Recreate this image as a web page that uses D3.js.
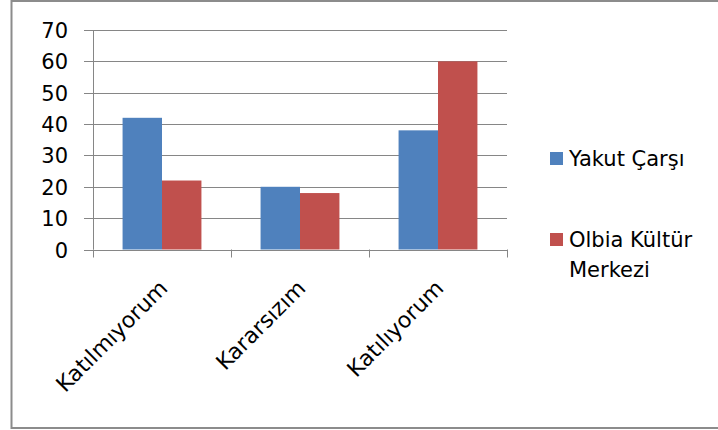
<!DOCTYPE html>
<html>
<head>
<meta charset="utf-8">
<script src="https://cdn.jsdelivr.net/npm/d3@7"></script>
<style>
  html, body { margin: 0; padding: 0; background: #fff; }
  svg text { font-family: 'DejaVu Sans', sans-serif; fill: #000; }
</style>
</head>
<body>
<div id="chart"></div>
<script>
const categories = ['Katılmıyorum', 'Kararsızım', 'Katılıyorum']
const seriesNames = ['Yakut Çarşı', 'Olbia Kültür Merkezi']
const yakutValues = [42, 20, 38]
const olbiaValues = [22, 18, 60]
const yTicks = [0, 10, 20, 30, 40, 50, 60, 70]
const seriesColors = ['#4f81bd', '#c0504d']

const width = 718
const height = 430
const plot = { left: 93, right: 507, top: 30, bottom: 249.5 }

const svg = d3.select('#chart').append('svg')
  .attr('width', width)
  .attr('height', height)

// chart frame (right edge falls outside the picture)
svg.append('rect')
  .attr('x', 11.5).attr('y', 1)
  .attr('width', 720).attr('height', 427)
  .attr('fill', '#fff')
  .attr('stroke', '#8c8c8c')
  .attr('stroke-width', 2)

const x = d3.scaleBand()
  .domain(categories)
  .range([plot.left, plot.right])

const xInner = d3.scaleBand()
  .domain(seriesNames)
  .range([0, x.bandwidth()])
  .paddingOuter(0.75)

const y = d3.scaleLinear()
  .domain([0, 70])
  .range([plot.bottom, plot.top])

// y tick labels
const yAxis = svg.append('g')
  .attr('transform', 'translate(' + plot.left + ',0)')
  .call(d3.axisLeft(y).tickValues(yTicks).tickSize(0).tickPadding(25).tickFormat(d3.format('d')))
yAxis.select('.domain').remove()
yAxis.selectAll('text').style('font-size', '21px').attr('dy', '0.36em')

// gridlines (extend left as outside tick marks)
svg.append('g').selectAll('line')
  .data(yTicks)
  .join('line')
  .attr('x1', plot.left - 9)
  .attr('x2', plot.right)
  .attr('y1', d => Math.round(y(d)) + 0.5)
  .attr('y2', d => Math.round(y(d)) + 0.5)
  .attr('stroke', '#868686')
  .attr('stroke-width', 1)

// y axis line
svg.append('line')
  .attr('x1', plot.left + 0.5).attr('x2', plot.left + 0.5)
  .attr('y1', plot.top).attr('y2', plot.bottom)
  .attr('stroke', '#868686')

// bars
const rows = categories.map((c, i) => ({ category: c, values: [yakutValues[i], olbiaValues[i]] }))

svg.append('g').selectAll('g')
  .data(rows)
  .join('g')
  .attr('transform', d => 'translate(' + x(d.category) + ',0)')
  .selectAll('rect')
  .data(d => d.values.map((v, j) => ({ name: seriesNames[j], value: v, color: seriesColors[j] })))
  .join('rect')
  .attr('x', d => xInner(d.name))
  .attr('width', xInner.bandwidth())
  .attr('y', d => y(d.value))
  .attr('height', d => y(0) - y(d.value))
  .attr('fill', d => d.color)

// x axis line and category ticks
svg.append('line')
  .attr('x1', plot.left - 9).attr('x2', plot.right)
  .attr('y1', Math.round(plot.bottom) + 0.5).attr('y2', Math.round(plot.bottom) + 0.5)
  .attr('stroke', '#868686')

const tickXs = categories.map(c => x(c)).concat([plot.right])
svg.append('g').selectAll('line')
  .data(tickXs)
  .join('line')
  .attr('x1', d => Math.round(d) + 0.5)
  .attr('x2', d => Math.round(d) + 0.5)
  .attr('y1', plot.bottom)
  .attr('y2', plot.bottom + 8)
  .attr('stroke', '#868686')

// rotated category labels
svg.append('g').selectAll('text')
  .data(categories)
  .join('text')
  .attr('text-anchor', 'end')
  .style('font-size', '22px')
  .attr('transform', d => 'translate(' + (x(d) + x.bandwidth() / 2 + 7) + ',' + (plot.bottom + 40) + ') rotate(-45)')
  .text(d => d)

// legend
const legendItems = [
  { lines: ['Yakut Çarşı'], y: 152 },
  { lines: ['Olbia Kültür', 'Merkezi'], y: 233 }
]
const legend = svg.append('g')
legendItems.forEach((item, i) => {
  legend.append('rect')
    .attr('x', 550).attr('y', item.y)
    .attr('width', 13).attr('height', 13)
    .attr('fill', seriesColors[i])
  const t = legend.append('text')
    .attr('x', 569)
    .attr('y', item.y + 14)
    .style('font-size', '21px')
  item.lines.forEach((ln, k) => {
    t.append('tspan')
      .attr('x', 569)
      .attr('dy', k === 0 ? 0 : 30)
      .text(ln)
  })
})
</script>
</body>
</html>
